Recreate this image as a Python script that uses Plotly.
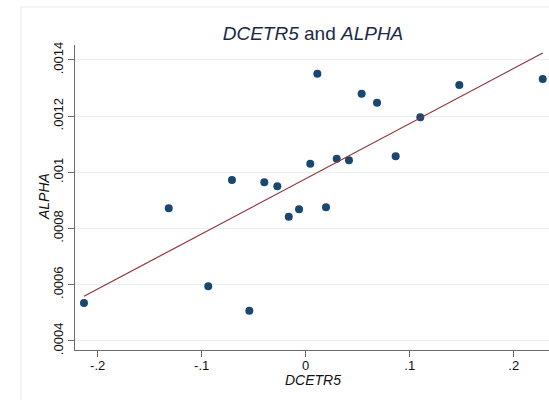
import plotly.graph_objects as go

# DCETR5 (x) and ALPHA (y) observations
dcetr5 = [-0.2132, -0.1317, -0.0937, -0.0542, -0.0709, -0.0398, -0.0273, -0.0163,
          -0.0064, 0.0044, 0.0112, 0.0195, 0.0298, 0.0416, 0.0538, 0.0686,
          0.0865, 0.1102, 0.1477, 0.2279]
alpha = [0.0005346, 0.000872, 0.000594, 0.000507, 0.000973, 0.000965, 0.00095, 0.000842,
         0.000868, 0.00103, 0.001351, 0.000876, 0.001048, 0.001043, 0.00128, 0.001248,
         0.001057, 0.001196, 0.001311, 0.001332]

# fitted values of the linear fit at the ends of the x range
fit_x = [-0.2132, 0.2279]
fit_y = [0.0005585, 0.0014248]

x_ticks = [-0.2, -0.1, 0, 0.1, 0.2]
x_tick_labels = ["-.2", "-.1", "0", ".1", ".2"]
y_ticks = [0.0004, 0.0006, 0.0008, 0.001, 0.0012, 0.0014]
y_tick_labels = [".0004", ".0006", ".0008", ".001", ".0012", ".0014"]

W, H = 549, 400
L, R, T, B = 75, 0, 45, 50
pw, ph = W - L - R, H - T - B

NAVY = "#1a476f"
MAROON = "#90353b"
GRID = "#e9f0f2"
AXIS = "#6b6b6b"
FONT = "Liberation Sans, Arial, sans-serif"

fig = go.Figure()
fig.add_trace(go.Scatter(
    x=dcetr5, y=alpha, mode="markers",
    marker=dict(color=NAVY, size=8, line=dict(width=0)),
    showlegend=False, hoverinfo="skip",
))
fig.add_trace(go.Scatter(
    x=fit_x, y=fit_y, mode="lines",
    line=dict(color=MAROON, width=1.2),
    showlegend=False, hoverinfo="skip",
))

# outer graph-region border
fig.add_shape(
    type="rect", xref="paper", yref="paper",
    x0=(21 - L) / pw, x1=1.5, y0=-0.6, y1=(H - B - 7) / ph,
    line=dict(color="#e3ebee", width=1), fillcolor="rgba(0,0,0,0)", layer="below",
)

fig.update_layout(
    width=W, height=H,
    margin=dict(l=L, r=R, t=T, b=B, pad=0),
    paper_bgcolor="white", plot_bgcolor="white",
    font=dict(family=FONT, color="#111111"),
    showlegend=False,
    title=dict(
        text="<i>DCETR5</i> and <i>ALPHA</i>",
        x=(313 - L) / pw, xanchor="center", xref="paper",
        y=1 - 33 / H, yanchor="middle", yref="container",
        font=dict(size=19, color="#1c2a45", family=FONT),
    ),
    xaxis=dict(
        range=[(L - 305.7) / 1040, (W - 305.7) / 1040],
        tickvals=x_ticks, ticktext=x_tick_labels,
        showgrid=False, zeroline=False,
        showline=True, linecolor=AXIS, linewidth=1.2,
        ticks="outside", ticklen=6, tickcolor=AXIS, tickwidth=1,
        ticklabelstandoff=-3,
        tickfont=dict(size=13, color="#111111"),
        automargin=False,
    ),
    yaxis=dict(
        range=[0.001 - (H - B - 172.3) / 280850, 0.001 + (172.3 - T) / 280850],
        tickvals=y_ticks, ticktext=y_tick_labels, tickangle=-90,
        showgrid=True, gridcolor=GRID, gridwidth=1,
        zeroline=False,
        showline=True, linecolor=AXIS, linewidth=1.2,
        ticks="outside", ticklen=6, tickcolor=AXIS, tickwidth=1,
        tickfont=dict(size=13, color="#111111"),
        automargin=False,
    ),
    annotations=[
        dict(text="<i>DCETR5</i>", xref="paper", yref="paper",
             x=(313 - L) / pw, y=-(380 - (H - B)) / ph,
             xanchor="center", yanchor="middle", showarrow=False,
             font=dict(size=14, color="#111111", family=FONT)),
        dict(text="<i>ALPHA</i>", xref="paper", yref="paper",
             x=-(L - 44) / pw, y=(H - B - 197) / ph, textangle=-90,
             xanchor="center", yanchor="middle", showarrow=False,
             font=dict(size=14, color="#111111", family=FONT)),
    ],
)

fig.write_html("out.html")
